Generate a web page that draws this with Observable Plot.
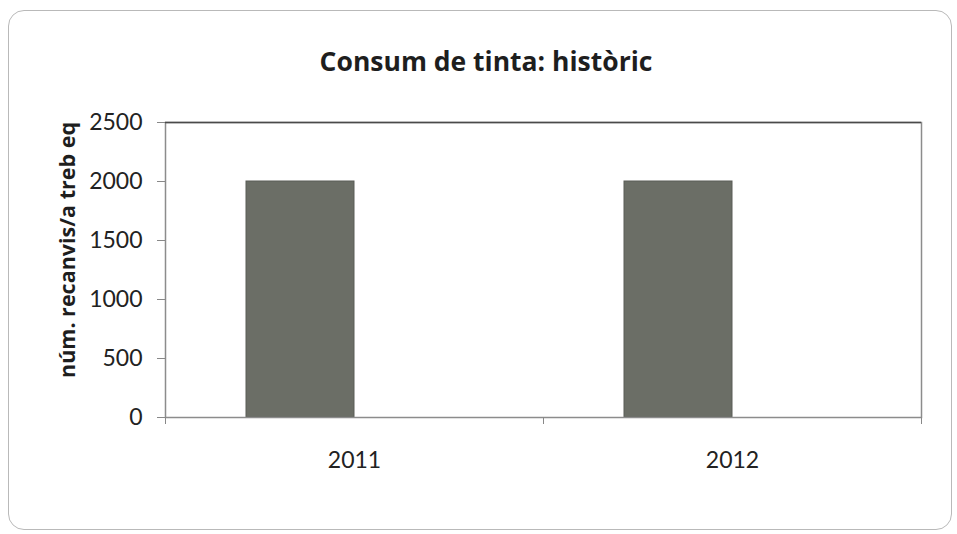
<!DOCTYPE html>
<html>
<head>
<meta charset="utf-8">
<script src="https://cdn.jsdelivr.net/npm/d3@7"></script>
<script src="https://cdn.jsdelivr.net/npm/@observablehq/plot@0.6"></script>
<style>
  html, body { margin: 0; padding: 0; background: #fff; }
  #wrap { position: relative; width: 957px; height: 534px; overflow: hidden; background: #fff; }
  #border { position: absolute; left: 8px; top: 10px; width: 942px; height: 518px; border: 1.5px solid #b9b9b9; border-radius: 16px; }
  #title { position: absolute; left: 0; width: 972px; top: 43px; text-align: center; font-family: "Open Sans", Lato, sans-serif; font-weight: bold; font-size: 26.5px; color: #1e1e1e; }
  #chart { position: absolute; left: 0; top: 0; }
</style>
</head>
<body>
<div id="wrap">
  <div id="border"></div>
  <div id="title">Consum de tinta: històric</div>
  <div id="chart"></div>
</div>
<script>
const years = ["2011", "2012"];
const values = [2000, 2000];
const yTicks = [0, 500, 1000, 1500, 2000, 2500];
const yLabel = "núm. recanvis/a treb eq";

const data = years.map((year, i) => ({year, value: values[i]}));

const W = 957, H = 534;
const mL = 165, mR = 36, mT = 122, mB = 117;
// Excel clustered-column layout: 2 series slots, gap width 150%
const bandW = (W - mL - mR) / years.length;
const gapWidth = 1.5, nSeries = 2;
const barW = bandW / (nSeries + gapWidth);
const insetLeft = barW * gapWidth / 2;
const insetRight = bandW - insetLeft - barW;

const chart = Plot.plot({
  width: W,
  height: H,
  marginLeft: mL,
  marginRight: mR,
  marginTop: mT,
  marginBottom: mB,
  style: {fontFamily: "Lato, 'Open Sans', sans-serif", fontSize: "23px", background: "transparent", color: "#222"},
  x: {type: "band", domain: years, padding: 0, label: null},
  y: {domain: [0, 2500], label: null},
  marks: [
    Plot.barY(data, {x: "year", y: "value", fill: "#6b6e66", stroke: "#5a5d56", strokeWidth: 1, insetLeft, insetRight}),
    Plot.frame({stroke: "#8c8c8c", strokeWidth: 1.5}),
    Plot.ruleY([2500], {stroke: "#4a4a4a", strokeWidth: 1.5}),
    Plot.axisY({ticks: yTicks, tickFormat: d3.format("d"), tickSize: 8, tickPadding: 15, label: null, stroke: "#888", fill: "#222"}),
    Plot.axisX({tickSize: 0, tickPadding: 34, label: null, fill: "#222"}),
    Plot.axisX({ticks: years, tickSize: 7, tickFormat: () => "", label: null, dx: -bandW / 2, stroke: "#888"}),
    Plot.axisX({ticks: [years[years.length - 1]], tickSize: 7, tickFormat: () => "", label: null, dx: bandW / 2, stroke: "#888"}),
    Plot.text([yLabel], {text: d => d, frameAnchor: "left", textAnchor: "middle", rotate: -90, dx: -97, dy: -20, fontWeight: "bold", fontSize: 21.5, fontFamily: "'Open Sans', Lato, sans-serif", fill: "#1e1e1e"})
  ]
});
document.getElementById("chart").appendChild(chart);
</script>
</body>
</html>
